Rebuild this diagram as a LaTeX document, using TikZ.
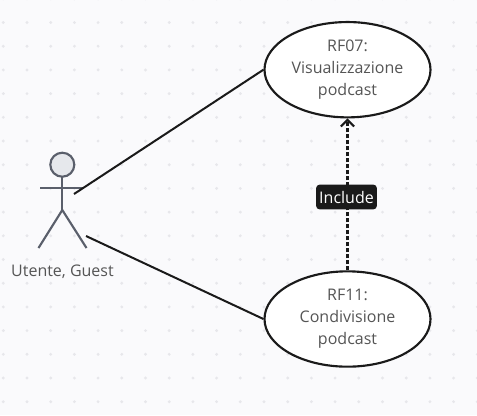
\documentclass[tikz,border=0pt]{standalone}
\usepackage{fontspec}
\setmainfont{Open Sans}
\usetikzlibrary{arrows.meta,shapes.geometric}
\definecolor{bgc}{HTML}{FAFAFC}
\definecolor{dotc}{HTML}{E7E7EB}
\definecolor{actc}{HTML}{5A5F6B}
\definecolor{headc}{HTML}{E6E8EC}
\definecolor{txtc}{HTML}{555555}
\definecolor{linec}{HTML}{1A1A1A}
\tikzset{
  usecase/.style={ellipse,draw=linec,line width=1.6pt,fill=white,inner sep=0pt,
    minimum width=124.5pt,minimum height=71.5pt,align=center,text=txtc,
    font=\fontsize{12}{16.5}\selectfont},
  assoc/.style={draw=linec,line width=1.5pt},
  incl/.style={draw=linec,line width=1.7pt,dash pattern=on 3.2pt off 1.3pt,
    -{Straight Barb[length=5pt,width=10pt,line width=1.5pt]}},
  tag/.style={fill=linec,rounded corners=2.5pt,text=white,inner xsep=1.5pt,inner ysep=0pt,
    minimum width=45.5pt,minimum height=18.5pt,font=\fontsize{12}{14}\selectfont},
  limb/.style={draw=actc,line width=1.6pt},
  actorname/.style={text=txtc,inner sep=0pt,font=\fontsize{12}{14}\selectfont}
}
\begin{document}
\begin{tikzpicture}[x=0.75pt,y=-0.75pt]
\useasboundingbox (0,0) rectangle (477,415);
\fill[bgc] (0,0) rectangle (477,415);
\foreach \i in {0,...,20}{\foreach \j in {0,...,17}{
  \fill[dotc] ({3.3+23.7*\i},{-1.2+23.7*\j}) circle (1.2pt);
}}
% actor
\draw[limb] (40,188) -- (84,188);
\draw[limb] (62.3,176.5) -- (62.3,210);
\draw[limb] (38.5,248) -- (62.3,210) -- (86.5,248);
\draw[limb,fill=headc] (62.3,164.7) circle (9pt);
\node[actorname] (actor) at (62.5,271.5) {Utente, Guest};
\coordinate (armend) at (74,194);
\coordinate (legend) at (86,236);
% use cases
\node[usecase] (uc1) at (347.5,69.7) {\raisebox{0pt}{RF07:}\\Visualizzazione\\podcast};
\node[usecase] (uc2) at (347.5,319) {RF11:\\Condivisione\\podcast};
% connectors
\draw[assoc] (armend) -- (uc1.west);
\draw[assoc] (legend) -- (uc2.west);
\draw[incl] (uc2.north) -- (uc1.south);
\node[tag] (inclabel) at (346.5,197) {Include};
\end{tikzpicture}
\end{document}
